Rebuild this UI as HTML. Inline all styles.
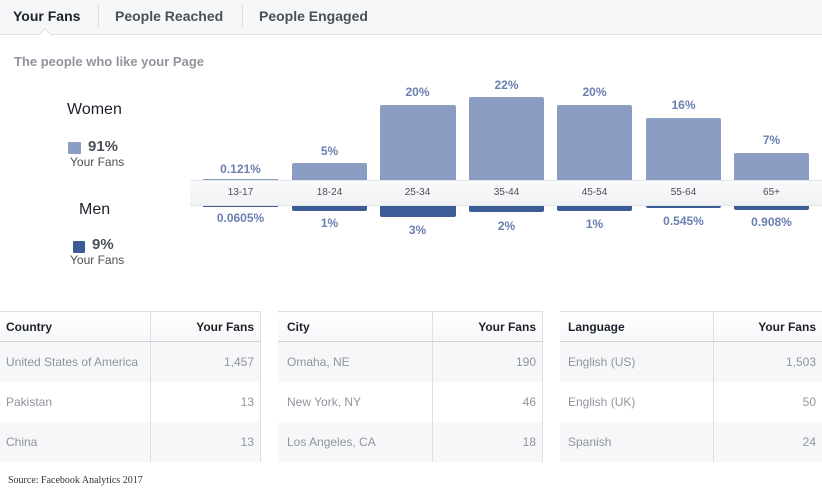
<!DOCTYPE html>
<html><head><meta charset="utf-8"><style>
*{margin:0;padding:0;box-sizing:border-box}
body{width:822px;height:500px;background:#fff;position:relative;overflow:hidden;font-family:"Liberation Sans",Arial,sans-serif}
.a{position:absolute;white-space:nowrap}
.tab{position:absolute;top:0;height:35px;line-height:33px;font-size:14px;font-weight:bold;color:#4b4f56}
.bar{position:absolute;background:#8b9dc3;border-radius:2px 2px 0 0}
.barm{position:absolute;background:#3b5c96;border-radius:0 0 2px 2px}
.lb{position:absolute;width:75px;text-align:center;font-size:12px;font-weight:bold;color:#6a7fb0}
.ax{position:absolute;width:75px;text-align:center;font-size:10px;color:#4b4f56;top:187px}
table{position:absolute;top:311px;border-collapse:collapse;font-size:12px}
td,th{height:40px;padding:0 6px;border-right:1px solid #dddfe2}
th{height:30px;font-weight:bold;color:#1d2129;background:linear-gradient(#fff,#f6f7f9);border-top:1px solid #dddfe2;border-bottom:1px solid #cfd1d5}
td{color:#90949c}
tr:nth-child(2) td,tr:nth-child(4) td{background:#f6f7f9}
.r{text-align:right}.l{text-align:left}
</style></head><body>
<div class="a" style="left:0;top:0;width:822px;height:35px;background:#f6f7f9;border-bottom:1px solid #dddfe2"></div>
<div class="tab" style="left:13px;color:#1d2129">Your Fans</div>
<div class="a" style="left:98px;top:5px;width:1px;height:22px;background:#dddfe2"></div>
<div class="tab" style="left:115px">People Reached</div>
<div class="a" style="left:242px;top:5px;width:1px;height:22px;background:#dddfe2"></div>
<div class="tab" style="left:259px">People Engaged</div>
<div class="a" style="left:40px;top:30px;width:10px;height:10px;background:#fff;border-left:1px solid #dddfe2;border-top:1px solid #dddfe2;transform:rotate(45deg)"></div>
<div class="a" style="left:14px;top:54px;font-size:13px;font-weight:bold;color:#90949c">The people who like your Page</div>

<div class="a" style="left:67px;top:101px;font-size:16px;color:#1d2129">Women</div>
<div class="a" style="left:68px;top:142px;width:13px;height:12px;background:#8b9dc3;border-radius:1px"></div>
<div class="a" style="left:88px;top:138px;font-size:15px;font-weight:bold;color:#4b4f56">91%</div>
<div class="a" style="left:70px;top:155px;font-size:12px;color:#4b4f56">Your Fans</div>
<div class="a" style="left:79px;top:201px;font-size:16px;color:#1d2129">Men</div>
<div class="a" style="left:73px;top:241px;width:12px;height:12px;background:#3b5c96;border-radius:1px"></div>
<div class="a" style="left:92px;top:236px;font-size:15px;font-weight:bold;color:#4b4f56">9%</div>
<div class="a" style="left:70px;top:253px;font-size:12px;color:#4b4f56">Your Fans</div>

<div class="a" style="left:190px;top:180px;width:632px;height:26px;background:linear-gradient(#f9fafb,#f1f2f4);border-top:1px solid #e5e6e9;border-bottom:1px solid #e5e6e9"></div>

<div class="a" style="left:203px;top:179px;width:75px;height:1px;background:#8b9dc3"></div>
<div class="a" style="left:203px;top:206px;width:75px;height:1px;background:#3b5c96"></div>
<div class="lb" style="left:203px;top:162px">0.121%</div>
<div class="lb" style="left:203px;top:211px">0.0605%</div>
<div class="ax" style="left:203px">13-17</div>

<div class="bar" style="left:292px;top:163px;width:75px;height:17px"></div>
<div class="barm" style="left:292px;top:206px;width:75px;height:5px"></div>
<div class="lb" style="left:292px;top:144px">5%</div>
<div class="lb" style="left:292px;top:216px">1%</div>
<div class="ax" style="left:292px">18-24</div>

<div class="bar" style="left:380px;top:105px;width:76px;height:75px"></div>
<div class="barm" style="left:380px;top:206px;width:76px;height:11px"></div>
<div class="lb" style="left:380px;top:85px">20%</div>
<div class="lb" style="left:380px;top:223px">3%</div>
<div class="ax" style="left:380px">25-34</div>

<div class="bar" style="left:469px;top:97px;width:75px;height:83px"></div>
<div class="barm" style="left:469px;top:206px;width:75px;height:6px"></div>
<div class="lb" style="left:469px;top:78px">22%</div>
<div class="lb" style="left:469px;top:219px">2%</div>
<div class="ax" style="left:469px">35-44</div>

<div class="bar" style="left:557px;top:105px;width:75px;height:75px"></div>
<div class="barm" style="left:557px;top:206px;width:75px;height:5px"></div>
<div class="lb" style="left:557px;top:85px">20%</div>
<div class="lb" style="left:557px;top:217px">1%</div>
<div class="ax" style="left:557px">45-54</div>

<div class="bar" style="left:646px;top:118px;width:75px;height:62px"></div>
<div class="barm" style="left:646px;top:206px;width:75px;height:2px"></div>
<div class="lb" style="left:646px;top:98px">16%</div>
<div class="lb" style="left:646px;top:214px">0.545%</div>
<div class="ax" style="left:646px">55-64</div>

<div class="bar" style="left:734px;top:153px;width:75px;height:27px"></div>
<div class="barm" style="left:734px;top:206px;width:75px;height:4px"></div>
<div class="lb" style="left:734px;top:133px">7%</div>
<div class="lb" style="left:734px;top:215px">0.908%</div>
<div class="ax" style="left:734px">65+</div>

<table style="left:0;width:261px">
<tr><th class="l" style="width:150px">Country</th><th class="r">Your Fans</th></tr>
<tr><td>United States of America</td><td class="r">1,457</td></tr>
<tr><td>Pakistan</td><td class="r">13</td></tr>
<tr><td>China</td><td class="r">13</td></tr>
</table>
<table style="left:278px;width:265px">
<tr><th class="l" style="width:154px;padding-left:9px">City</th><th class="r">Your Fans</th></tr>
<tr><td style="padding-left:9px">Omaha, NE</td><td class="r">190</td></tr>
<tr><td style="padding-left:9px">New York, NY</td><td class="r">46</td></tr>
<tr><td style="padding-left:9px">Los Angeles, CA</td><td class="r">18</td></tr>
</table>
<table style="left:560px;width:262px">
<tr><th class="l" style="width:153px;padding-left:8px">Language</th><th class="r" style="border-right:none">Your Fans</th></tr>
<tr><td style="padding-left:8px">English (US)</td><td class="r" style="border-right:none">1,503</td></tr>
<tr><td style="padding-left:8px">English (UK)</td><td class="r" style="border-right:none">50</td></tr>
<tr><td style="padding-left:8px">Spanish</td><td class="r" style="border-right:none">24</td></tr>
</table>
<div class="a" style="left:8px;top:475px;font-family:'Liberation Serif',serif;font-size:10px;color:#333">Source: Facebook Analytics 2017</div>
</body></html>
